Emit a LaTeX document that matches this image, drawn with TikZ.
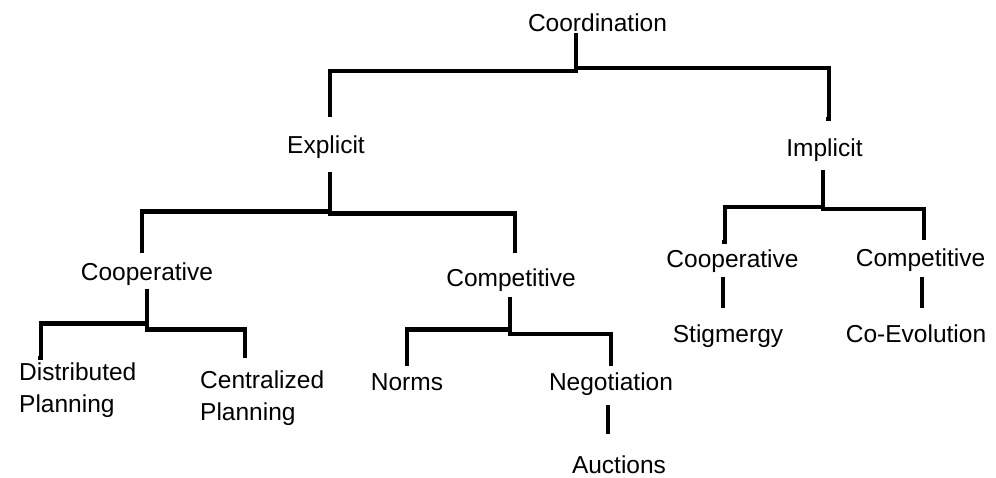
\documentclass[tikz,border=0pt]{standalone}
\usepackage{fontspec}
\setmainfont{Liberation Sans}
\begin{document}
\begin{tikzpicture}[x=1bp,y=-1bp,
  lbl/.style={inner sep=0pt, anchor=base, font=\fontsize{24.6}{32}\selectfont},
  lbl2/.style={lbl, anchor=base west, align=left},
  branch/.style={line width=4.2bp, black}]
\useasboundingbox (0,0) rectangle (996,478);

% labels (two-line labels are anchored at their last baseline)
\node[lbl] (coord) at (597.5,31.5) {Coordination};
\node[lbl] (expl) at (326,154) {Explicit};
\node[lbl] (impl) at (824.5,157) {Implicit};
\node[lbl] (coopL) at (147,281) {Cooperative};
\node[lbl] (compL) at (511,287) {Competitive};
\node[lbl2] (distr) at (19,412) {Distributed\\Planning};
\node[lbl2] (centr) at (200,420) {Centralized\\Planning};
\node[lbl] (norms) at (407,390) {Norms};
\node[lbl] (nego) at (611,390) {Negotiation};
\node[lbl] (auct) at (619,473) {Auctions};
\node[lbl] (coopR) at (732.5,268) {Cooperative};
\node[lbl] (compR) at (920.5,267) {Competitive};
\node[lbl] (stig) at (728,343) {Stigmergy};
\node[lbl] (coevo) at (916,343) {Co-Evolution};

% stem tops below each parent
\coordinate (coord-s) at (576,33);
\coordinate (expl-s) at (330,172);
\coordinate (impl-s) at (823,170);
\coordinate (coopL-s) at (147,289);
\coordinate (compL-s) at (510,297);
\coordinate (nego-s) at (608,405);
\coordinate (coopR-s) at (723,277);
\coordinate (compR-s) at (922,277);

% line ends above each child
\coordinate (expl-n) at (330,117);
\coordinate (impl-n) at (829,119);
\coordinate (coopL-n) at (142,253);
\coordinate (compL-n) at (515,253);
\coordinate (distr-n) at (41,358);
\coordinate (centr-n) at (245,358);
\coordinate (norms-n) at (407,366);
\coordinate (nego-n) at (611,366);
\coordinate (auct-n) at (608,434);
\coordinate (coopR-n) at (725,242);
\coordinate (compR-n) at (924,240);
\coordinate (stig-n) at (723,308);
\coordinate (coevo-n) at (922,308);

% elbow connectors
\draw[branch] (coord-s) -- ++(0,38) -| (expl-n);
\draw[branch] (coord-s) -- ++(0,35) -| (impl-n) -- ++(-3,0);
\draw[branch] (expl-s) -- ++(0,39.5) -| (coopL-n);
\draw[branch] (expl-s) -- ++(0,41.5) -| (compL-n);
\draw[branch] (coopL-s) -- ++(0,34.5) -| (distr-n) -- ++(-3,0);
\draw[branch] (coopL-s) -- ++(0,40.5) -| (centr-n);
\draw[branch] (compL-s) -- ++(0,32.5) -| (norms-n);
\draw[branch] (compL-s) -- ++(0,37) -| (nego-n);
\draw[branch] (nego-s) -- (auct-n);
\draw[branch] (impl-s) -- ++(0,37) -| (coopR-n) -- ++(-3,0);
\draw[branch] (impl-s) -- ++(0,39) -| (compR-n);
\draw[branch] (coopR-s) -- (stig-n);
\draw[branch] (compR-s) -- (coevo-n);
\end{tikzpicture}
\end{document}
